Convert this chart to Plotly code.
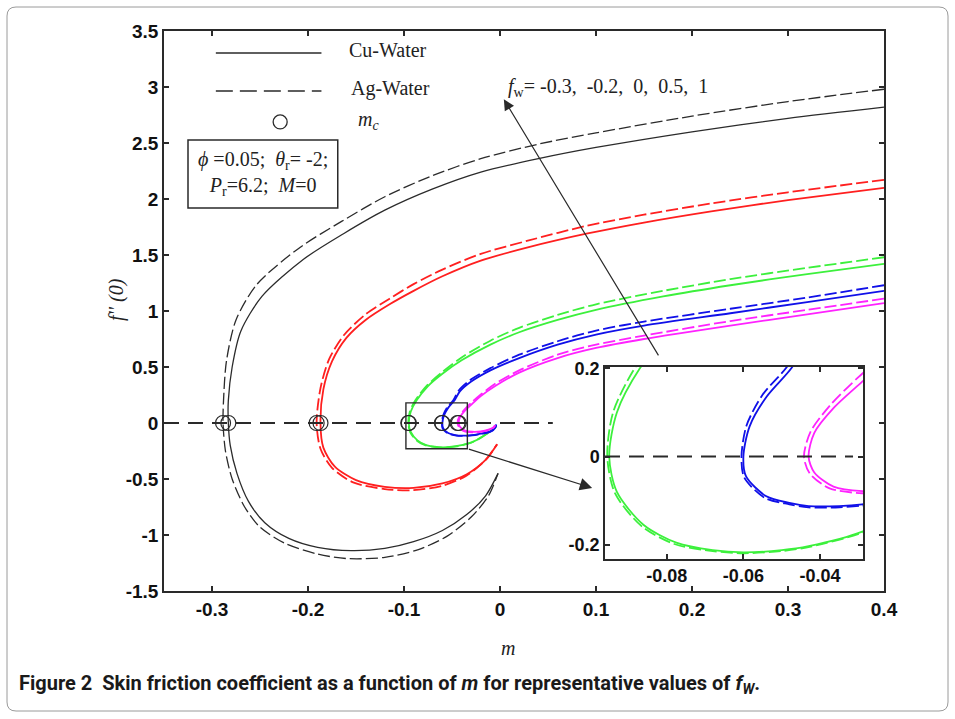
import plotly.graph_objects as go

# ---- skin friction f''(0) versus m, five suction/injection values f_w ----
fw_values = ["-0.3", "-0.2", "0", "0.5", "1"]
colors = ["#2b2b2b", "#ff1f1f", "#3cf03c", "#1010e8", "#ff22ff"]

# Cu-Water branches (upper branch -> turning point -> lower branch)
cu_m_0 = [0.40, 0.30, 0.20, 0.10, 0.04, -0.02, -0.07, -0.12, -0.163, -0.205, -0.248, -0.270, -0.279, -0.283, -0.283,
          -0.281, -0.274, -0.262, -0.245, -0.22, -0.19, -0.155, -0.12, -0.09, -0.06, -0.035, -0.015, -0.002]
cu_f_0 = [2.82, 2.72, 2.60, 2.46, 2.36, 2.24, 2.09, 1.90, 1.69, 1.46, 1.13, 0.82, 0.50, 0.20, 0.0,
          -0.20, -0.45, -0.70, -0.89, -1.03, -1.11, -1.14, -1.12, -1.06, -0.96, -0.82, -0.65, -0.45]
cu_m_1 = [0.40, 0.30, 0.22, 0.15, 0.09, 0.03, -0.02, -0.06, -0.09, -0.115, -0.14, -0.16, -0.175, -0.184, -0.187,
          -0.184, -0.172, -0.15, -0.12, -0.09, -0.06, -0.035, -0.015, -0.003]
cu_f_1 = [2.10, 1.99, 1.89, 1.79, 1.69, 1.57, 1.45, 1.31, 1.18, 1.06, 0.92, 0.76, 0.55, 0.30, 0.0,
          -0.22, -0.39, -0.51, -0.57, -0.58, -0.54, -0.46, -0.33, -0.19]
cu_m_2 = [0.40, 0.32, 0.24, 0.17, 0.10, 0.06, 0.02, -0.01, -0.04, -0.06, -0.075, -0.087, -0.093, -0.095,
          -0.093, -0.086, -0.0775, -0.068, -0.06, -0.05, -0.043, -0.029, -0.018, -0.008, -0.004]
cu_f_2 = [1.42, 1.33, 1.23, 1.13, 1.01, 0.92, 0.81, 0.70, 0.56, 0.44, 0.33, 0.20, 0.10, 0.0,
          -0.08, -0.155, -0.195, -0.212, -0.217, -0.212, -0.203, -0.17, -0.12, -0.06, -0.03]
cu_m_3 = [0.40, 0.32, 0.24, 0.15, 0.10, 0.06, 0.02, -0.01, -0.03, -0.042, -0.0475, -0.054, -0.0584, -0.060,
          -0.0593, -0.054, -0.048, -0.043, -0.035, -0.029, -0.02, -0.01, -0.005, -0.004]
cu_f_3 = [1.18, 1.08, 0.98, 0.87, 0.79, 0.70, 0.58, 0.47, 0.37, 0.28, 0.20, 0.135, 0.068, 0.0,
          -0.045, -0.09, -0.105, -0.112, -0.112, -0.108, -0.095, -0.075, -0.045, -0.015]
cu_m_4 = [0.40, 0.32, 0.24, 0.15, 0.10, 0.06, 0.02, -0.005, -0.02, -0.029, -0.0365, -0.0415, -0.043,
          -0.0415, -0.0365, -0.029, -0.02, -0.012, -0.007, -0.005]
cu_f_4 = [1.07, 0.97, 0.87, 0.75, 0.67, 0.58, 0.45, 0.33, 0.24, 0.17, 0.11, 0.054, 0.0,
          -0.036, -0.068, -0.078, -0.075, -0.06, -0.04, -0.02]

# Ag-Water branches
ag_m_0 = [0.40, 0.30, 0.20, 0.10, 0.04, -0.02, -0.07, -0.12, -0.165, -0.208, -0.253, -0.275, -0.285, -0.288, -0.2885,
          -0.286, -0.279, -0.266, -0.25, -0.225, -0.19, -0.16, -0.12, -0.085, -0.055, -0.03, -0.012, -0.002]
ag_f_0 = [2.98, 2.87, 2.74, 2.59, 2.49, 2.36, 2.21, 2.02, 1.80, 1.57, 1.24, 0.92, 0.55, 0.20, 0.0,
          -0.25, -0.50, -0.75, -0.93, -1.07, -1.17, -1.21, -1.20, -1.13, -1.01, -0.84, -0.65, -0.45]
ag_m_1 = [0.40, 0.30, 0.22, 0.15, 0.09, 0.03, -0.02, -0.06, -0.09, -0.115, -0.14, -0.162, -0.178, -0.187, -0.191,
          -0.187, -0.175, -0.153, -0.12, -0.09, -0.06, -0.035, -0.015, -0.003]
ag_f_1 = [2.17, 2.06, 1.96, 1.86, 1.76, 1.63, 1.51, 1.37, 1.24, 1.11, 0.97, 0.79, 0.57, 0.31, 0.0,
          -0.23, -0.40, -0.53, -0.59, -0.60, -0.56, -0.47, -0.33, -0.19]
ag_m_2 = [0.40, 0.32, 0.24, 0.17, 0.10, 0.06, 0.02, -0.01, -0.04, -0.06, -0.076, -0.088, -0.094, -0.0955,
          -0.0935, -0.0865, -0.078, -0.068, -0.06, -0.05, -0.043, -0.029, -0.018, -0.008, -0.004]
ag_f_2 = [1.48, 1.385, 1.285, 1.18, 1.06, 0.965, 0.85, 0.735, 0.585, 0.455, 0.335, 0.205, 0.10, 0.0,
          -0.083, -0.158, -0.198, -0.214, -0.219, -0.214, -0.205, -0.172, -0.121, -0.061, -0.03]
ag_m_3 = [0.40, 0.32, 0.24, 0.15, 0.10, 0.06, 0.02, -0.01, -0.03, -0.043, -0.0485, -0.055, -0.0592, -0.0605,
          -0.0598, -0.0545, -0.048, -0.043, -0.035, -0.029, -0.02, -0.01, -0.005, -0.004]
ag_f_3 = [1.23, 1.12, 1.02, 0.905, 0.825, 0.73, 0.61, 0.49, 0.39, 0.29, 0.205, 0.14, 0.07, 0.0,
          -0.047, -0.093, -0.108, -0.115, -0.115, -0.111, -0.098, -0.078, -0.047, -0.015]
ag_m_4 = [0.40, 0.32, 0.24, 0.15, 0.10, 0.06, 0.02, -0.005, -0.02, -0.03, -0.0375, -0.0425, -0.0442,
          -0.0427, -0.0375, -0.029, -0.02, -0.012, -0.007, -0.005]
ag_f_4 = [1.11, 1.01, 0.91, 0.78, 0.70, 0.61, 0.47, 0.35, 0.255, 0.18, 0.115, 0.056, 0.0,
          -0.038, -0.072, -0.083, -0.08, -0.064, -0.043, -0.02]

# critical values m_c (turning points) for each f_w
mc_cu = [-0.283, -0.187, -0.095, -0.060, -0.043]
mc_ag = [-0.2885, -0.191, -0.0955, -0.0605, -0.0442]

# axis ticks
main_xticks = [-0.3, -0.2, -0.1, 0, 0.1, 0.2, 0.3, 0.4]
main_yticks = [-1.5, -1, -0.5, 0, 0.5, 1, 1.5, 2, 2.5, 3, 3.5]
inset_xticks = [-0.08, -0.06, -0.04]
inset_yticks = [-0.2, 0, 0.2]

cu_m = [cu_m_0, cu_m_1, cu_m_2, cu_m_3, cu_m_4]
cu_f = [cu_f_0, cu_f_1, cu_f_2, cu_f_3, cu_f_4]
ag_m = [ag_m_0, ag_m_1, ag_m_2, ag_m_3, ag_m_4]
ag_f = [ag_f_0, ag_f_1, ag_f_2, ag_f_3, ag_f_4]

W, H = 955, 719
L, R, T, B = 164, 71, 31, 128
X0, X1 = -0.35, 0.40
Y0, Y1 = -1.5, 3.5
IX0, IX1 = -0.0961, -0.0288
IY0, IY1 = -0.232, 0.203

serif = "Liberation Serif, Times New Roman, serif"
sans = "Liberation Sans, Arial, sans-serif"
ink = "#2a2a2a"
SP = "\u00a0"

fig = go.Figure()

for i in range(5):
    w = 1.3 if i == 0 else 1.8
    for (xs, ys, dash) in [(cu_m[i], cu_f[i], "solid"), (ag_m[i], ag_f[i], "12px,4px")]:
        for xa, ya in [("x", "y"), ("x2", "y2")]:
            fig.add_trace(go.Scatter(
                x=xs, y=ys, mode="lines", xaxis=xa, yaxis=ya,
                line=dict(color=colors[i], width=w if xa == "x" else 1.8, dash=dash,
                          shape="spline", smoothing=0.8),
                showlegend=False, hoverinfo="skip"))

# turning-point markers
fig.add_trace(go.Scatter(
    x=mc_cu + mc_ag, y=[0] * (len(mc_cu) + len(mc_ag)), mode="markers",
    marker=dict(symbol="circle-open", size=15, color=ink, line=dict(width=1.2)),
    showlegend=False, hoverinfo="skip"))

# legend key drawn inside the frame
fig.add_trace(go.Scatter(
    x=[-0.229], y=[2.688], mode="markers",
    marker=dict(symbol="circle-open", size=14, color=ink, line=dict(width=1.3)),
    showlegend=False, hoverinfo="skip"))

shapes = [
    dict(type="line", xref="x", yref="y", x0=X0, x1=0.055, y0=0, y1=0,
         line=dict(color=ink, width=2, dash="15px,9px")),
    dict(type="line", xref="x2", yref="y2", x0=IX0, x1=-0.0314, y0=0, y1=0,
         line=dict(color=ink, width=2, dash="15px,9px")),
    dict(type="rect", xref="x", yref="y", x0=-0.098, x1=-0.034, y0=-0.23, y1=0.18,
         line=dict(color=ink, width=1.4)),
    dict(type="line", xref="x", yref="y", x0=-0.296, x1=-0.186, y0=3.304, y1=3.304,
         line=dict(color=ink, width=1.4)),
    dict(type="line", xref="x", yref="y", x0=-0.296, x1=-0.186, y0=2.964, y1=2.964,
         line=dict(color=ink, width=1.4, dash="17px,7px")),
    dict(type="rect", xref="x", yref="y", x0=-0.325, x1=-0.169, y0=1.92, y1=2.527,
         line=dict(color=ink, width=1.5), fillcolor="white"),
]

# rounded page frame
fx0, fx1, fy0, fy1, r = 7, 948, 7, 711, 9
def px(xp):
    return (xp - L) / (W - L - R)
def py(yp):
    return (H - B - yp) / (H - T - B)
path = (f"M {px(fx0 + r)},{py(fy0)} L {px(fx1 - r)},{py(fy0)} "
        f"Q {px(fx1)},{py(fy0)} {px(fx1)},{py(fy0 + r)} L {px(fx1)},{py(fy1 - r)} "
        f"Q {px(fx1)},{py(fy1)} {px(fx1 - r)},{py(fy1)} L {px(fx0 + r)},{py(fy1)} "
        f"Q {px(fx0)},{py(fy1)} {px(fx0)},{py(fy1 - r)} L {px(fx0)},{py(fy0 + r)} "
        f"Q {px(fx0)},{py(fy0)} {px(fx0 + r)},{py(fy0)} Z")
shapes.append(dict(type="path", xref="paper", yref="paper", path=path,
                   line=dict(color="#9a9a9a", width=1)))

fw_text = f"<i>f</i><sub>w</sub>=" + f",{SP}{SP}".join(" " + v if k == 0 else v for k, v in enumerate(fw_values))

annotations = [
    dict(xref="x", yref="y", x=-0.159, y=3.33, text="Cu-Water", showarrow=False,
         xanchor="left", yanchor="middle", font=dict(family=serif, size=20, color="#222")),
    dict(xref="x", yref="y", x=-0.157, y=2.99, text="Ag-Water", showarrow=False,
         xanchor="left", yanchor="middle", font=dict(family=serif, size=20, color="#222")),
    dict(xref="x", yref="y", x=-0.150, y=2.70, text="<i>m</i><sub><i>c</i></sub>", showarrow=False,
         xanchor="left", yanchor="middle", font=dict(family=serif, size=20, color="#222")),
    dict(xref="x", yref="y", x=-0.247, y=2.225,
         text=(f"<i>ϕ</i>{SP}=0.05;{SP}{SP}<i>θ</i><sub>r</sub>={SP}-2;<br>"
               f"<i>P</i><sub>r</sub>=6.2;{SP}{SP}<i>M</i>=0"),
         showarrow=False, align="center", yanchor="middle",
         font=dict(family=serif, size=20, color="#222")),
    dict(xref="x", yref="y", x=0.006, y=3.0, text=fw_text,
         showarrow=False, xanchor="left", yanchor="middle",
         font=dict(family=serif, size=20, color="#222")),
    # arrow through the family of curves (direction of increasing f_w)
    dict(xref="x", yref="y", axref="x", ayref="y", x=0.004, y=2.89, ax=0.166, ay=0.59,
         text="", showarrow=True, arrowhead=2, arrowsize=1.8, arrowwidth=1.2, arrowcolor=ink),
    # arrow from the zoom box to the inset
    dict(xref="x", yref="y", axref="x", ayref="y", x=0.096, y=-0.58, ax=-0.034, ay=-0.23,
         text="", showarrow=True, arrowhead=2, arrowsize=1.9, arrowwidth=1.3, arrowcolor=ink),
    dict(xref="paper", yref="paper", x=px(508), y=py(648), text="<i>m</i>", showarrow=False,
         xanchor="center", yanchor="middle", font=dict(family=serif, size=20, color="#222")),
    dict(xref="paper", yref="paper", x=px(116), y=py(300), text="<i>f'' (0)</i>", showarrow=False,
         xanchor="center", yanchor="middle", textangle=-90,
         font=dict(family=serif, size=20, color="#222")),
    dict(xref="paper", yref="paper", x=px(17), y=py(684), xanchor="left", yanchor="middle",
         text=(f"<b>Figure 2{SP}{SP}Skin friction coefficient as a function of <i>m</i> for representative values of "
               "<i>f</i><sub><i>W</i></sub>.</b>"),
         showarrow=False, font=dict(family="Liberation Sans Narrow, Roboto, sans-serif", size=20,
                                    color="#1a1a1a")),
]

axis_common = dict(showgrid=False, zeroline=False, showline=True, linecolor=ink, linewidth=1.5,
                   mirror="ticks", ticks="inside", ticklen=5, tickwidth=1.5, tickcolor=ink)

fig.update_layout(
    width=W, height=H, margin=dict(l=L, r=R, t=T, b=B),
    paper_bgcolor="white", plot_bgcolor="white",
    showlegend=False,
    xaxis=dict(range=[X0, X1], tickvals=main_xticks, ticktext=[f"{v:g}" for v in main_xticks],
               tickfont=dict(family=sans, size=19, color="#111", weight="bold"), domain=[0, 1], **axis_common),
    yaxis=dict(range=[Y0, Y1], tickvals=main_yticks, ticktext=[f"{v:g}" for v in main_yticks],
               tickfont=dict(family=sans, size=19, color="#111", weight="bold"), domain=[0, 1], **axis_common),
    xaxis2=dict(range=[IX0, IX1], tickvals=inset_xticks, ticktext=[f"{v:g}" for v in inset_xticks],
                tickfont=dict(family=sans, size=18, color="#111", weight="bold"), domain=[px(605), px(863)],
                anchor="y2", **axis_common),
    yaxis2=dict(range=[IY0, IY1], tickvals=inset_yticks, ticktext=[f"{v:g}" for v in inset_yticks],
                tickfont=dict(family=sans, size=18, color="#111", weight="bold"), domain=[py(559), py(367)],
                anchor="x2", **axis_common),
    shapes=shapes, annotations=annotations,
)

fig.write_html("out.html")
